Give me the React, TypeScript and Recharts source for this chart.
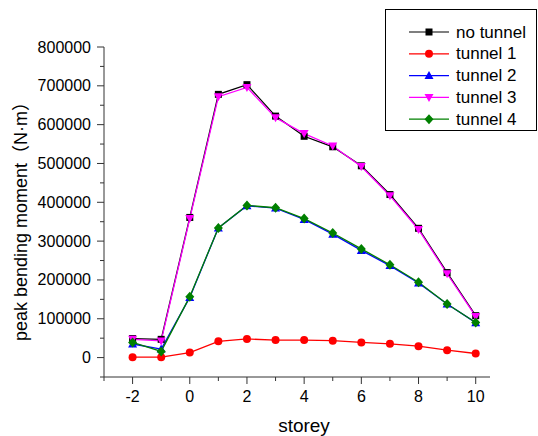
import React from 'react';
import { LineChart, Line, XAxis, YAxis, Legend, Label } from 'recharts';

const storeys = [-2, -1, 0, 1, 2, 3, 4, 5, 6, 7, 8, 9, 10];
const noTunnel = [49000, 47000, 361000, 678000, 703000, 622000, 570000, 543000, 494000, 420000, 333000, 219000, 108000];
const tunnel1 = [1000, 1000, 13000, 42000, 48000, 45000, 45000, 43500, 39000, 35500, 29500, 19000, 10500];
const tunnel2 = [35000, 22000, 155000, 334000, 391000, 385000, 356000, 318000, 276000, 237000, 192000, 138000, 90000];
const tunnel3 = [47000, 43000, 358000, 672000, 696000, 618000, 577000, 545000, 492000, 417000, 330000, 216000, 106000];
const tunnel4 = [39000, 16000, 157000, 334000, 392000, 386000, 358000, 321000, 280000, 239000, 194000, 138000, 90500];

const xTicks = [-3, -2, -1, 0, 1, 2, 3, 4, 5, 6, 7, 8, 9, 10];
const yTicks = [-50000, 0, 50000, 100000, 150000, 200000, 250000, 300000, 350000, 400000, 450000, 500000, 550000, 600000, 650000, 700000, 750000, 800000];

const series = [
  { key: 'noTunnel', name: 'no tunnel', color: '#000000', shape: 'square' },
  { key: 'tunnel1', name: 'tunnel 1', color: '#ff0000', shape: 'circle' },
  { key: 'tunnel2', name: 'tunnel 2', color: '#0000ff', shape: 'up' },
  { key: 'tunnel3', name: 'tunnel 3', color: '#ff00ff', shape: 'down' },
  { key: 'tunnel4', name: 'tunnel 4', color: '#008000', shape: 'diamond' },
];

const data = storeys.map((s, i) => ({
  storey: s,
  noTunnel: noTunnel[i],
  tunnel1: tunnel1[i],
  tunnel2: tunnel2[i],
  tunnel3: tunnel3[i],
  tunnel4: tunnel4[i],
}));

const FONT = 'Arial, "Liberation Sans", "Noto Sans CJK SC", sans-serif';
const AXIS = '#333333';

function Marker({ cx, cy, shape, color }: any) {
  if (cx == null || cy == null) return null;
  if (shape === 'square') return <rect x={cx - 3.5} y={cy - 3.5} width={7} height={7} fill={color} />;
  if (shape === 'circle') return <circle cx={cx} cy={cy} r={4} fill={color} />;
  if (shape === 'up') return <path d={`M${cx},${cy - 4.5} L${cx + 4.5},${cy + 3.5} L${cx - 4.5},${cy + 3.5} Z`} fill={color} />;
  if (shape === 'down') return <path d={`M${cx},${cy + 4.5} L${cx + 4.5},${cy - 3.5} L${cx - 4.5},${cy - 3.5} Z`} fill={color} />;
  return <path d={`M${cx},${cy - 5} L${cx + 4.5},${cy} L${cx},${cy + 5} L${cx - 4.5},${cy} Z`} fill={color} />;
}

function YTick({ x, y, payload }: any) {
  const v = payload.value;
  const major = v >= 0 && v % 100000 === 0;
  return (
    <g>
      <line x1={x} x2={x - (major ? 7 : 4)} y1={y} y2={y} stroke={AXIS} strokeWidth={1} />
      {major && (
        <text x={x - 13} y={y} textAnchor="end" dominantBaseline="central" fontSize={16} fontFamily={FONT} fill="#000">
          {String(v)}
        </text>
      )}
    </g>
  );
}

function XTick({ x, y, payload }: any) {
  const v = payload.value;
  const major = v % 2 === 0;
  return (
    <g>
      <line x1={x} x2={x} y1={y} y2={y + (major ? 7 : 4)} stroke={AXIS} strokeWidth={1} />
      {major && (
        <text x={x} y={y + 19} textAnchor="middle" dominantBaseline="central" fontSize={16} fontFamily={FONT} fill="#000">
          {String(v)}
        </text>
      )}
    </g>
  );
}

function LegendBox({ payload }: any) {
  const items = payload || [];
  return (
    <svg width={152} height={122} style={{ display: 'block' }}>
      <rect x={0.5} y={0.5} width={151} height={121} fill="#fff" stroke="#000" strokeWidth={1} />
      {items.map((item: any, i: number) => {
        const s = series.find((d) => d.key === item.dataKey) || series[i];
        const cy = 23 + i * 21.8;
        return (
          <g key={s.key}>
            <line x1={24} x2={64} y1={cy} y2={cy} stroke={s.color} strokeWidth={1.2} />
            <Marker cx={44} cy={cy} shape={s.shape} color={s.color} />
            <text x={71} y={cy} dominantBaseline="central" fontSize={17} fontFamily={FONT} fill="#000">
              {s.name}
            </text>
          </g>
        );
      })}
    </svg>
  );
}

function YTitle({ viewBox }: any) {
  const cx = viewBox.x - 3;
  const cy = viewBox.y + viewBox.height / 2 + 5;
  return (
    <text
      x={cx}
      y={cy}
      transform={`rotate(-90, ${cx}, ${cy})`}
      textAnchor="middle"
      dominantBaseline="central"
      fontSize={18}
      fontFamily={FONT}
      fill="#000"
    >
      peak bending moment（N·m）
    </text>
  );
}

function XTitle({ viewBox }: any) {
  const cx = viewBox.x + viewBox.width / 2 + 7;
  const cy = viewBox.y + 48;
  return (
    <text x={cx} y={cy} textAnchor="middle" dominantBaseline="central" fontSize={19} fontFamily={FONT} fill="#000">
      storey
    </text>
  );
}

export default function App() {
  return (
    <div style={{ position: 'absolute', left: 0, top: 0, width: 538, height: 436, background: '#fff' }}>
      <LineChart width={538} height={436} data={data} margin={{ top: 47, right: 48, left: 24, bottom: 0 }}>
        <XAxis
          dataKey="storey"
          type="number"
          domain={[-3, 10.5]}
          ticks={xTicks}
          allowDataOverflow
          height={59}
          tickSize={0}
          tickMargin={0}
          tickLine={false}
          tick={<XTick />}
          interval={0}
          stroke={AXIS}
        >
          <Label content={<XTitle />} />
        </XAxis>
        <YAxis
          type="number"
          domain={[-50000, 800000]}
          ticks={yTicks}
          allowDataOverflow
          width={80}
          tickSize={0}
          tickMargin={0}
          tickLine={false}
          tick={<YTick />}
          interval={0}
          stroke={AXIS}
        >
          <Label content={<YTitle />} />
        </YAxis>
        <Legend
          layout="vertical"
          align="center"
          verticalAlign="middle"
          wrapperStyle={{ left: 385, top: 9, width: 152, height: 122 }}
          content={<LegendBox />}
        />
        {series.map((s) => (
          <Line
            key={s.key}
            dataKey={s.key}
            name={s.name}
            stroke={s.color}
            strokeWidth={1.3}
            isAnimationActive={false}
            activeDot={false}
            dot={(p: any) => <Marker key={`${s.key}-${p.index}`} cx={p.cx} cy={p.cy} shape={s.shape} color={s.color} />}
          />
        ))}
      </LineChart>
    </div>
  );
}
